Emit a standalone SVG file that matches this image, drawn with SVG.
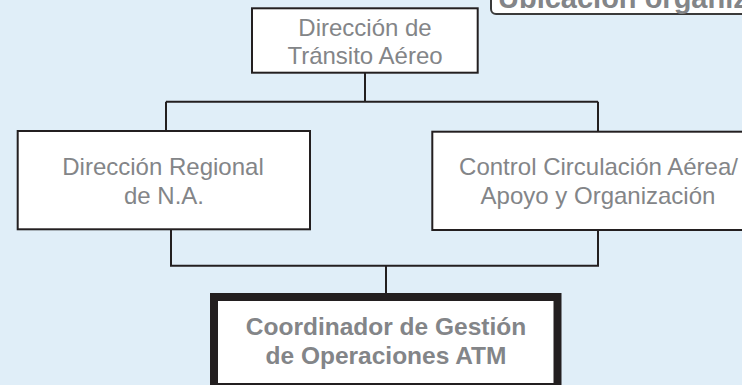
<svg xmlns="http://www.w3.org/2000/svg" width="742" height="385" viewBox="0 0 742 385">
<style>
.box{fill:#ffffff;stroke:#231f20;stroke-width:2}
.con{fill:none;stroke:#231f20;stroke-width:2}
.t{font-family:"Liberation Sans",Arial,sans-serif;font-size:24px;fill:#838588;text-anchor:middle}
.tb{font-family:"Liberation Sans",Arial,sans-serif;font-size:24.5px;font-weight:bold;fill:#838588;text-anchor:middle}
</style>
<rect x="0" y="0" width="742" height="385" fill="#e0eef8"/>
<g id="title">
<rect x="491" y="-20" width="280" height="34" rx="5" ry="5" fill="#ffffff" stroke="#3a3a3a" stroke-width="2"/>
<text x="498" y="8" font-family="'Liberation Sans',Arial,sans-serif" font-size="29" font-weight="bold" fill="#838588">Ubicación organizacional</text>
</g>
<g id="connectors">
<path class="con" d="M365 72.7V101.7M166 101.7H598M166 101.7V131M598 101.7V131.7"/>
<path class="con" d="M171 229.3V265.7H598V230M386 265.7V293"/>
</g>
<g id="n-transito">
<rect class="box" x="252" y="8.3" width="225.7" height="64.4"/>
<text class="t" x="365" y="36">Dirección de</text>
<text class="t" x="365" y="63.5">Tránsito Aéreo</text>
</g>
<g id="n-regional">
<rect class="box" x="17.7" y="131" width="292.3" height="98.3"/>
<text class="t" x="163" y="175">Dirección Regional</text>
<text class="t" x="164" y="203.5">de N.A.</text>
</g>
<g id="n-control">
<rect class="box" x="432.3" y="131.7" width="332" height="98.3"/>
<text class="t" x="598.5" y="175">Control Circulación Aérea/</text>
<text class="t" x="598" y="203.5">Apoyo y Organización</text>
</g>
<g id="n-coordinador">
<rect x="214" y="297" width="343.5" height="90" fill="#ffffff" stroke="#231f20" stroke-width="8"/>
<text class="tb" x="386" y="335">Coordinador de Gestión</text>
<text class="tb" x="386" y="363.5">de Operaciones ATM</text>
</g>
</svg>
